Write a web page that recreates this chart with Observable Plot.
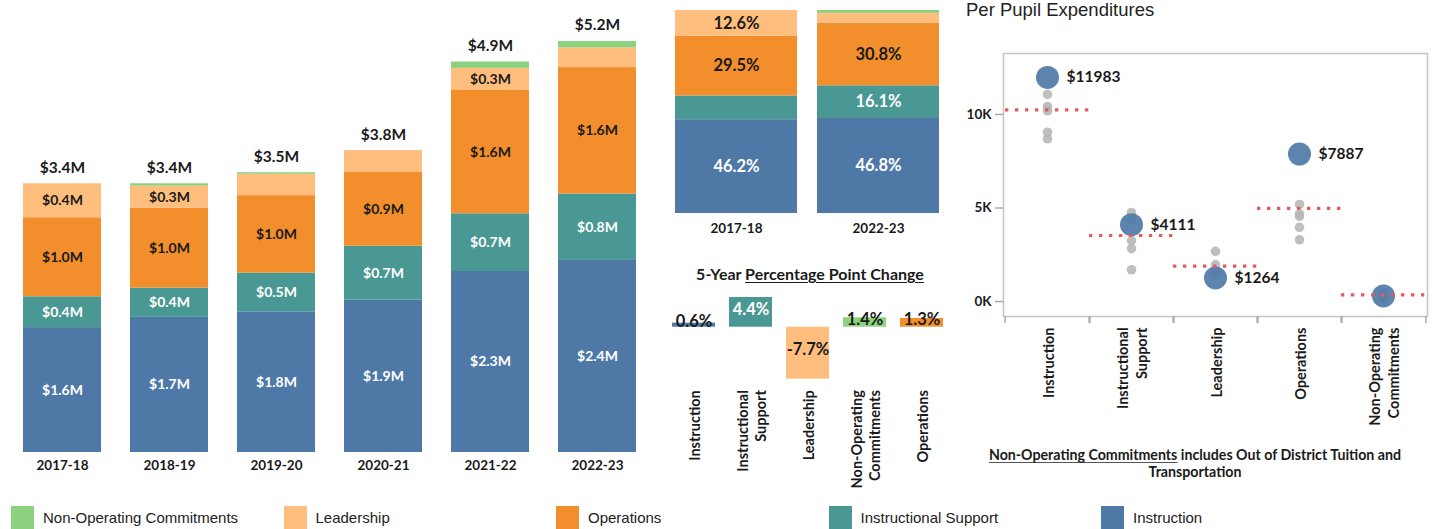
<!DOCTYPE html>
<html><head><meta charset="utf-8">
<script src="https://cdn.jsdelivr.net/npm/d3@7"></script>
<script src="https://cdn.jsdelivr.net/npm/@observablehq/plot@0.6"></script>
<style>
body{margin:0;background:#fff;}
#wrap{position:relative;width:1432px;height:529px;overflow:hidden;font-family:Lato,sans-serif;color:#1a1a1a;}
.panel{position:absolute;}
.panel svg{overflow:visible;}
.title{position:absolute;font-family:"Liberation Sans",Arial,sans-serif;font-size:18.5px;color:#222;white-space:nowrap;}
.subtitle{position:absolute;font-family:Lato,sans-serif;font-weight:bold;font-size:16px;color:#1a1a1a;white-space:nowrap;text-align:center;}
.caption{position:absolute;font-family:Lato,sans-serif;font-weight:bold;font-size:14.2px;line-height:17px;color:#1a1a1a;text-align:center;white-space:nowrap;}
.legend-item{position:absolute;top:506px;height:23px;display:flex;align-items:center;font-family:"Liberation Sans",Arial,sans-serif;font-size:15px;color:#222;white-space:nowrap;}
.legend-item span.sw{display:inline-block;width:23px;height:23px;margin-right:9px;}
</style></head><body><div id="wrap"></div>
<script>
// ---------- data ----------
const years = ["2017-18","2018-19","2019-20","2020-21","2021-22","2022-23"];
// stack order bottom -> top
const categories = ["Instruction","Instructional Support","Operations","Leadership","Non-Operating Commitments"];
const colors = ["#4e79a7","#499894","#f28e2b","#ffbe7d","#8cd17d"];
// expenditures in $M
const instruction          = [1.58,1.71,1.78,1.93,2.29,2.43];
const instructionalSupport = [0.39,0.37,0.49,0.68,0.73,0.84];
const operations           = [1.00,1.01,0.98,0.94,1.56,1.60];
const leadership           = [0.43,0.28,0.27,0.27,0.28,0.25];
const nonOperating         = [0.00,0.03,0.02,0.00,0.08,0.08];

// shares (%) in same category order
const shareYears = ["2017-18","2022-23"];
const share2017 = [46.2,11.7,29.5,12.6,0.0];
const share2022 = [46.8,16.1,30.8,4.9,1.4];

const changeOrder = ["Instruction","Instructional Support","Leadership","Non-Operating Commitments","Operations"];

// per pupil expenditures
const ppeCategories = ["Instruction","Instructional Support","Leadership","Operations","Non-Operating Commitments"];
const ppeDistrict  = [11983,4111,1264,7887,300];
const ppeBenchmark = [10250,3530,1890,4980,360];
const ppeComparison = [
  [11070,10430,10200,9050,8700],
  [4760,4330,3260,2830,1700],
  [2680,1960,1600,1450],
  [5190,4690,4550,3970,3300],
  [450,350,250,150]
];
const ppeTicks = [0,5000,10000];

// ---------- helpers ----------
const wrap = document.getElementById("wrap");
function place(node, left, top){ const d=document.createElement("div"); d.className="panel"; d.style.left=left+"px"; d.style.top=top+"px"; d.appendChild(node); wrap.appendChild(d); return d; }
const color = {domain: categories, range: colors};
const darkCats = new Set(["Instruction","Instructional Support"]);
const baseStyle = {fontFamily:"Lato, sans-serif", fontWeight:"bold", fontSize:"13.5px", color:"#1a1a1a", background:"transparent", overflow:"visible"};
const fmtM = v => "$" + v.toFixed(1) + "M";
const fmtP = v => v.toFixed(1) + "%";

// ---------- panel A: stacked $ bars ----------
const series = [instruction, instructionalSupport, operations, leadership, nonOperating];
const stacked = [];
years.forEach((yr,i)=>{ let base=0; categories.forEach((c,j)=>{ const v=series[j][i]; stacked.push({year:yr,cat:c,value:v,y1:base,y2:base+v,mid:base+v/2}); base+=v; }); });
const totals = years.map((yr,i)=>({year:yr,total:d3.sum(series,s=>s[i])}));
const labA = stacked.filter(d=>d.value>=0.28);

const plotA = Plot.plot({
  width:660, height:480, marginLeft:21, marginRight:23, marginTop:41, marginBottom:28,
  x:{domain:years, paddingInner:0.274, paddingOuter:0, label:null, tickSize:0, tickPadding:8},
  y:{domain:[0,5.2], axis:null},
  color, style:baseStyle,
  marks:[
    Plot.barY(stacked,{x:"year",y1:"y1",y2:"y2",fill:"cat"}),
    Plot.text(labA.filter(d=>darkCats.has(d.cat)),{x:"year",y:"mid",text:d=>fmtM(d.value),fill:"white",fontSize:14}),
    Plot.text(labA.filter(d=>!darkCats.has(d.cat)),{x:"year",y:"mid",text:d=>fmtM(d.value),fill:"#1a1a1a",fontSize:14}),
    Plot.text(totals,{x:"year",y:"total",text:d=>fmtM(d.total),dy:-16,fontSize:15.5,fill:"#1a1a1a"})
  ]
});
place(plotA,0,0);

// ---------- panel B: 100% bars ----------
const shareSeries=[share2017,share2022];
const shareData=[];
shareYears.forEach((yr,i)=>{ let base=0; categories.forEach((c,j)=>{ const v=shareSeries[i][j]; shareData.push({year:yr,cat:c,value:v,y1:base,y2:base+v,mid:base+v/2}); base+=v; }); });
const labB = shareData.filter(d=>d.value>=12);
const plotB = Plot.plot({
  width:300, height:245, marginLeft:15, marginRight:21, marginTop:10, marginBottom:32,
  x:{domain:shareYears, paddingInner:0.141, paddingOuter:0, label:null, tickSize:0, tickPadding:10},
  y:{domain:[0,100], axis:null},
  color, style:baseStyle,
  marks:[
    Plot.barY(shareData,{x:"year",y1:"y1",y2:"y2",fill:"cat"}),
    Plot.text(labB.filter(d=>darkCats.has(d.cat)),{x:"year",y:"mid",text:d=>fmtP(d.value),fill:"white",fontSize:16.5}),
    Plot.text(labB.filter(d=>!darkCats.has(d.cat)),{x:"year",y:"mid",text:d=>fmtP(d.value),fill:"#1a1a1a",fontSize:16.5})
  ]
});
place(plotB,660,0);

// ---------- panel C: 5-year change ----------
const changeData = changeOrder.map(c=>{ const j=categories.indexOf(c); const v=Math.round((share2022[j]-share2017[j])*10)/10; return {cat:c,value:v,mid:v/2}; });
const t = document.createElement("div"); t.className="subtitle";
t.style.left="660px"; t.style.top="264px"; t.style.width="300px";
t.innerHTML = '5-Year <span style="text-decoration:underline;text-underline-offset:2px">Percentage Point Change</span>';
wrap.appendChild(t);
const isWhite = d => darkCats.has(d.cat) && Math.abs(d.value)>=2;
const plotC = Plot.plot({
  width:300, height:190, marginLeft:11, marginRight:17, marginTop:2.95, marginBottom:99.3,
  x:{domain:changeOrder, paddingInner:0.249, paddingOuter:0, label:null},
  y:{domain:[-8,5], axis:null},
  color, style:baseStyle,
  marks:[
    Plot.barY(changeData,{x:"cat",y:"value",fill:"cat"}),
    Plot.text(changeData.filter(isWhite),{x:"cat",y:"mid",text:d=>fmtP(d.value),fill:"white",fontSize:16.5,dy:-3}),
    Plot.text(changeData.filter(d=>!isWhite(d)),{x:"cat",y:"mid",text:d=>fmtP(d.value),fill:"#1a1a1a",fontSize:16.5,dy:-3}),
    Plot.axisX({tickRotate:-90, tickSize:0, tickPadding:9, tickFormat:d=>d.replace(" ","\n"), lineHeight:1.3, fontSize:14.5, fill:"#1a1a1a", label:null})
  ]
});
place(plotC,660,290);

// ---------- panel D: per pupil expenditures ----------
const title = document.createElement("div"); title.className="title";
title.style.left="966px"; title.style.top="-1px"; title.style.lineHeight="22px";
title.textContent="Per Pupil Expenditures"; wrap.appendChild(title);

const districtData = ppeCategories.map((c,i)=>({cat:c,value:ppeDistrict[i]}));
const benchData = ppeCategories.map((c,i)=>({cat:c,value:ppeBenchmark[i]}));
const grayData = ppeCategories.flatMap((c,i)=>ppeComparison[i].map(v=>({cat:c,value:v})));
const bw = (472-43-5)/ppeCategories.length;
const plotD = Plot.plot({
  width:472, height:440, marginLeft:43, marginRight:5, marginTop:53, marginBottom:124,
  x:{domain:ppeCategories, padding:0, label:null},
  y:{domain:[-800,13260], label:null},
  style:baseStyle,
  marks:[
    Plot.frame({stroke:"#c4c4c4", strokeWidth:1.5}),
    Plot.axisY({ticks:ppeTicks, tickSize:8, tickFormat:()=>"", stroke:"#aaa", strokeWidth:1.5, label:null}),
    Plot.axisY({ticks:ppeTicks, tickSize:0, tickPadding:12, tickFormat:d=>(d/1000)+"K", fontSize:13.5, fill:"#1a1a1a", label:null}),
    Plot.axisX({tickSize:7, dx:-bw/2, tickFormat:()=>"", stroke:"#aaa", strokeWidth:1.5, label:null}),
    Plot.axisX({tickSize:7, dx:bw/2, tickFormat:()=>"", stroke:"#aaa", strokeWidth:1.5, label:null}),
    Plot.axisX({tickRotate:-90, tickSize:0, tickPadding:11, tickFormat:d=>d.replace(" ","\n"), lineHeight:1.3, fontSize:14.5, fill:"#1a1a1a", label:null}),
    Plot.dot(grayData,{x:"cat",y:"value",r:4.8,fill:"#b4b4b4",fillOpacity:0.85}),
    Plot.dot(districtData,{x:"cat",y:"value",r:11.5,fill:"#4e79a7",fillOpacity:0.92}),
    Plot.tickY(benchData,{x:"cat",y:"value",stroke:"#e8585a",strokeWidth:3.2,strokeDasharray:"3.3 6.7"}),
    Plot.text(districtData.filter(d=>d.value>=1000),{x:"cat",y:"value",text:d=>"$"+d.value,textAnchor:"start",dx:19,fontSize:15.5,fill:"#1a1a1a"})
  ]
});
place(plotD,960,0);

const cap = document.createElement("div"); cap.className="caption";
cap.style.left="975px"; cap.style.top="446px"; cap.style.width="440px";
const capLine1 = document.createElement("div");
capLine1.innerHTML='<span style="text-decoration:underline;text-decoration-color:#555;text-underline-offset:2px">Non-Operating Commitments</span><span> includes Out of District Tuition and</span>';
const capLine2 = document.createElement("div"); capLine2.textContent="Transportation";
cap.appendChild(capLine1); cap.appendChild(capLine2);
wrap.appendChild(cap);

// ---------- legend ----------
const legendOrder = categories.slice().reverse();
legendOrder.forEach((c,i)=>{
  const it=document.createElement("div"); it.className="legend-item";
  it.style.left=(11+i*272.5)+"px";
  const sw=document.createElement("span"); sw.className="sw"; sw.style.background=colors[categories.indexOf(c)];
  it.appendChild(sw); it.appendChild(document.createTextNode(c));
  wrap.appendChild(it);
});
</script></body></html>
